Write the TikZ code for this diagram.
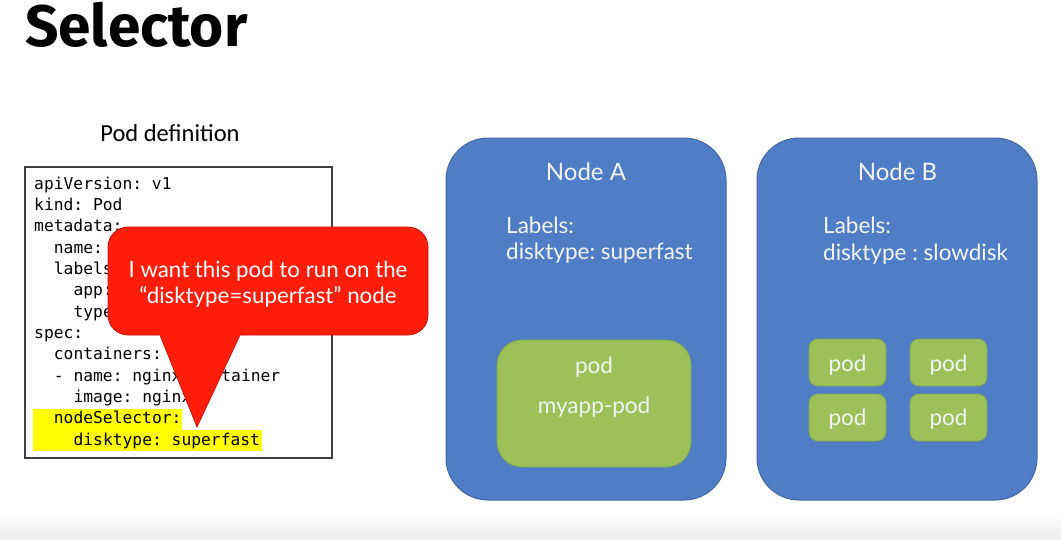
\documentclass[tikz,border=0pt]{standalone}
\usepackage{fontspec}
\setmainfont{Lato}
\newfontfamily\codefont{DejaVu Sans Mono}
\newfontfamily\slidefont{Carlito}
\newfontfamily\titlefont{Fira Sans}
\definecolor{nodeblue}{HTML}{4F7EC6}
\definecolor{nodeblueedge}{HTML}{41689F}
\definecolor{podgreen}{HTML}{9BC158}
\definecolor{podgreenedge}{HTML}{86A94A}
\definecolor{calloutred}{HTML}{FF1E0A}
\definecolor{calloutedge}{HTML}{C8140A}
\definecolor{hlyellow}{HTML}{FFFF00}
\definecolor{softwhite}{HTML}{F4F4F4}
\tikzset{
  nodebox/.style={draw=nodeblueedge, line width=1pt, fill=nodeblue, rounded corners=42, minimum width=280, minimum height=362, inner sep=0},
  podbox/.style={draw=podgreenedge, line width=0.8pt, fill=podgreen, inner sep=0},
  wtext/.style={text=softwhite, inner sep=0, font=\fontsize{22.5}{26}\selectfont\frenchspacing},
  codeline/.style={anchor=base west, inner sep=0, font=\codefont\fontsize{16.3}{18}\selectfont\frenchspacing},
  hl/.style={fill=hlyellow},
}
\begin{document}
\frenchspacing
\begin{tikzpicture}[x=1pt,y=-1pt]
\useasboundingbox (0,0) rectangle (1061,539);
\shade[top color=white, bottom color=black!7] (0,512) rectangle (1061,539);

% title
\node[anchor=base west, inner sep=0, font=\titlefont\bfseries\fontsize{58.5}{62}\selectfont] (title) at (25,46) {Selector};
\node[anchor=base, inner sep=0, font=\slidefont\fontsize{24.5}{28}\selectfont] (poddef) at (170,141.5) {Pod definition};

% code box
\node[draw=black!75, line width=1.2pt, minimum width=307, minimum height=291, inner sep=0] (code) at (178.5,312.5) {};
\fill[hl] (33,409.3) rectangle (181.7,429.8);
\fill[hl] (33,429.8) rectangle (261.7,450.7);
\node[codeline] (l1) at (34,189) {apiVersion: v1};
\node[codeline] (l2) at (34,210.3) {kind: Pod};
\node[codeline] (l3) at (34,231.7) {metadata:};
\node[codeline] (l4) at (53.7,253) {name:};
\node[codeline] (l5) at (53.7,274.3) {labels};
\node[codeline] (l6) at (73.4,295.7) {app:};
\node[codeline] (l7) at (73.4,317) {type};
\node[codeline] (l8) at (34,338.3) {spec:};
\node[codeline] (l9) at (53.7,359.7) {containers:};
\node[codeline] (l10) at (53.7,381) {- name: nginx};
\node[codeline] (l10b) at (221.2,381) {tainer};
\node[codeline] (l11) at (73.4,402.3) {image: nginx};
\node[codeline] (l12) at (53.7,423.7) {nodeSelector:};
\node[codeline] (l13) at (73.4,445) {disktype: superfast};

% callout
\fill[calloutred, draw=calloutedge, line width=0.8pt, rounded corners=20] (108,227) rectangle (428,335);
\path[fill=calloutred, draw=calloutedge, line width=0.8pt] (160,335) -- (197,427) -- (240,335);
\fill[calloutred] (161.2,332) rectangle (238.8,337.5);
\node[wtext, text=white, anchor=base, font=\fontsize{22.3}{26}\selectfont\frenchspacing] (call1) at (268,277) {I want this pod to run on the};
\node[wtext, text=white, anchor=base, font=\fontsize{22.3}{26}\selectfont\frenchspacing] (call2) at (268,303) {“disktype=superfast” node};

% Node A
\node[nodebox] (nodeA) at (586,319) {};
\node[wtext, anchor=base, font=\fontsize{24}{28}\selectfont] (nodeAname) at (586,180) {Node A};
\node[wtext, anchor=base west] (nodeAl1) at (506,233) {Labels:};
\node[wtext, anchor=base west] (nodeAl2) at (506,259) {disktype: superfast};
\node[podbox, rounded corners=25, minimum width=194, minimum height=127] (podA) at (594,403.5) {};
\node[wtext, anchor=base] (podAt1) at (594,373) {pod};
\node[wtext, anchor=base] (podAt2) at (594,413) {myapp-pod};

% Node B
\node[nodebox] (nodeB) at (897,319) {};
\node[wtext, anchor=base, font=\fontsize{24}{28}\selectfont] (nodeBname) at (897.5,180) {Node B};
\node[wtext, anchor=base west] (nodeBl1) at (823,233) {Labels:};
\node[wtext, anchor=base west] (nodeBl2) at (823,260) {disktype : slowdisk};
\node[podbox, rounded corners=9, minimum width=77, minimum height=47] (pb1) at (847.5,362.5) {};
\node[podbox, rounded corners=9, minimum width=77, minimum height=47] (pb2) at (948.5,362.5) {};
\node[podbox, rounded corners=9, minimum width=77, minimum height=47] (pb3) at (847.5,417.5) {};
\node[podbox, rounded corners=9, minimum width=77, minimum height=47] (pb4) at (948.5,417.5) {};
\node[wtext, anchor=base] (pb1t) at (847.5,371) {pod};
\node[wtext, anchor=base] (pb2t) at (948.5,371) {pod};
\node[wtext, anchor=base] (pb3t) at (847.5,425) {pod};
\node[wtext, anchor=base] (pb4t) at (948.5,425) {pod};
\end{tikzpicture}
\end{document}
